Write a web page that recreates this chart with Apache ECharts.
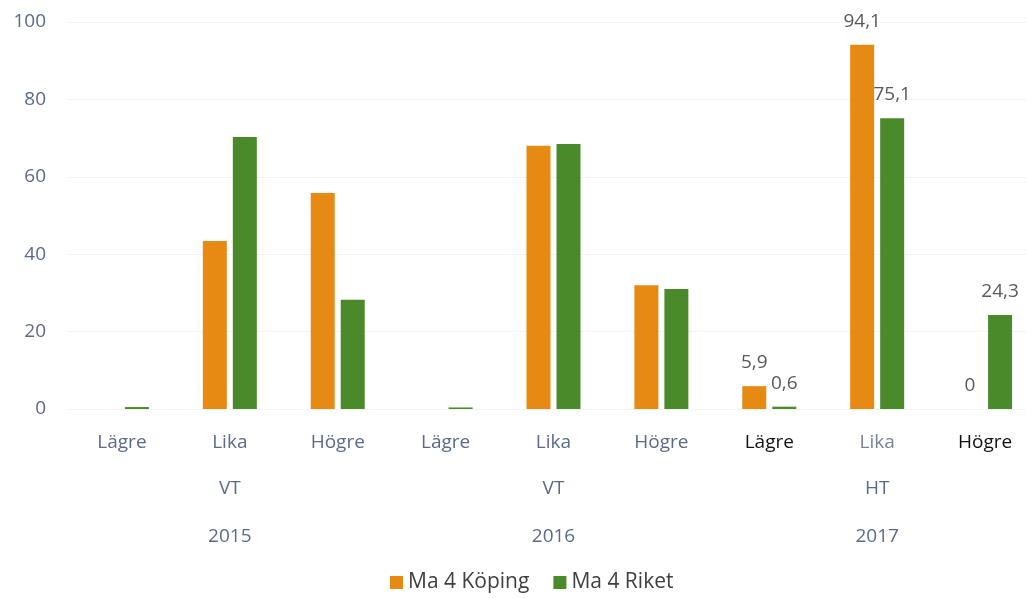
<!DOCTYPE html>
<html>
<head>
<meta charset="utf-8">
<script src="https://cdn.jsdelivr.net/npm/echarts@6/dist/echarts.min.js"></script>
<style>
    html, body { margin: 0; padding: 0; background: #fff; overflow: hidden; }
    /* diagrammet är lite beskuret till höger i originalet */
    #chart { width: 1040px; height: 598px; }
</style>
</head>
<body>
<div id="chart"></div>
<script>
// kategorier och grupper
var categories = ['Lägre', 'Lika', 'Högre', 'Lägre', 'Lika', 'Högre', 'Lägre', 'Lika', 'Högre'];
var terms = ['', 'VT', '', '', 'VT', '', '', 'HT', ''];
var years = ['', '2015', '', '', '2016', '', '', '2017', ''];

// värden
var koping = [0, 43.4, 55.8, 0, 68, 32, 5.9, 94.1, 0];
var riket = [0.5, 70.3, 28.2, 0.4, 68.5, 31, 0.6, 75.1, 24.3];

var yTicks = [0, 20, 40, 60, 80, 100];

var axisColor = '#5b6a8a';
var fontFam = '"Open Sans", "Noto Sans", sans-serif';

// etikett-färger (2017 Lägre/Högre är svarta i originalet)
var catColors = [axisColor, axisColor, axisColor, axisColor, axisColor, axisColor, '#111', '#7a8299', '#111'];

function withLabels (arr) {
    return arr.map(function (v, i) {
        return {
            value: v,
            label: { show: i >= 6 }
        };
    });
}

var myChart = echarts.init(document.getElementById('chart'));

var labelAxis = function (data, offset) {
    return {
        type: 'category',
        position: 'bottom',
        data: data,
        offset: offset,
        axisLine: { show: false },
        axisTick: { show: false },
        axisLabel: { color: axisColor, fontSize: 19, fontFamily: fontFam, interval: 0 }
    };
};

var valueLabel = {
    position: 'top',
    distance: 14,
    color: '#595959',
    fontSize: 19,
    fontFamily: fontFam,
    formatter: function (p) { return String(p.value).replace('.', ','); }
};

var options = {
    animation: false,
    grid: { left: 68, right: 1, top: 22, bottom: 189 },
    legend: {
        bottom: 0,
        left: 385,
        icon: 'rect',
        itemWidth: 13,
        itemHeight: 13,
        itemGap: 24,
        textStyle: { color: '#404040', fontSize: 21, fontFamily: fontFam },
        data: ['Ma 4 Köping', 'Ma 4 Riket']
    },
    xAxis: [
        {
            type: 'category',
            position: 'bottom',
            data: categories.map(function (c, i) {
                return { value: c, textStyle: { color: catColors[i] } };
            }),
            axisLine: { show: false },
            axisTick: { show: false },
            axisLabel: { fontSize: 19, fontFamily: fontFam, margin: 24, interval: 0 }
        },
        labelAxis(terms, 62),
        labelAxis(years, 110)
    ],
    yAxis: {
        type: 'value',
        min: yTicks[0],
        max: yTicks[yTicks.length - 1],
        interval: 20,
        axisLine: { show: false },
        axisTick: { show: false },
        splitLine: { lineStyle: { color: '#f3f3f3' } },
        axisLabel: { color: axisColor, fontSize: 19, fontFamily: fontFam, margin: 22 }
    },
    series: [
        {
            name: 'Ma 4 Köping',
            type: 'bar',
            barWidth: 24,
            barGap: '25%',
            itemStyle: { color: '#E68A14' },
            label: valueLabel,
            data: withLabels(koping)
        },
        {
            name: 'Ma 4 Riket',
            type: 'bar',
            barWidth: 24,
            itemStyle: { color: '#4B8A2B' },
            label: valueLabel,
            data: withLabels(riket)
        }
    ]
};

myChart.setOption(options);
</script>
</body>
</html>
